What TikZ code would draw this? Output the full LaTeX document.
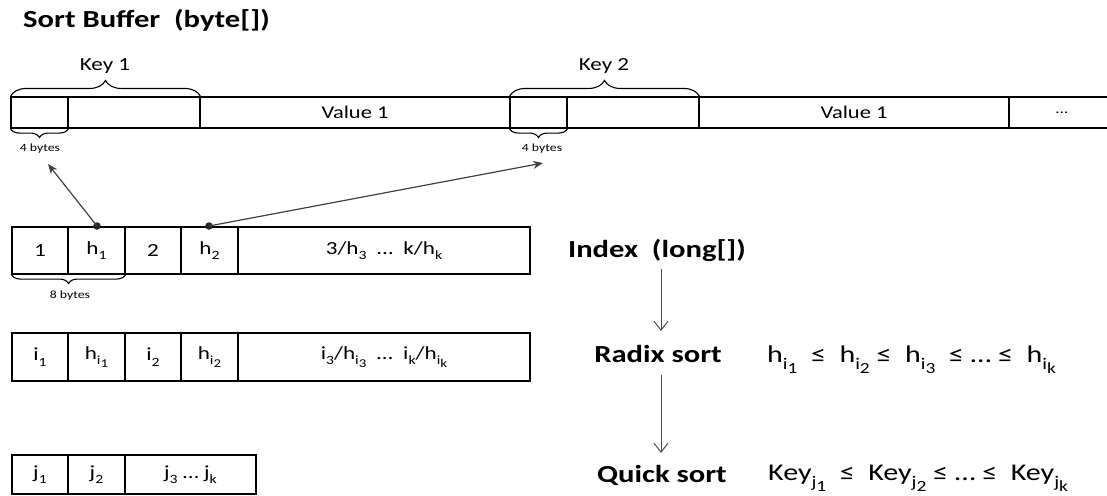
\documentclass[tikz,border=0pt]{standalone}
\usepackage{fontspec}
\setmainfont[FakeStretch=1.25]{Carlito}
\usetikzlibrary{arrows.meta,decorations.pathreplacing}
\newcommand\lowx[1]{\raisebox{-0.3em}{\scalebox{0.68}{#1}}}
\newcommand\lowy[1]{\raisebox{-0.25em}{\scalebox{0.95}{#1}}}
\tikzset{
  cell/.style={draw=black, line width=1.1pt, rectangle, inner sep=0pt, font=\fontsize{18.5}{21}\selectfont},
  lbl/.style={inner sep=0pt, font=\fontsize{18.5}{21}\selectfont},
  small/.style={inner sep=0pt, font=\fontsize{11}{12}\selectfont},
  head/.style={inner sep=0pt, font=\fontsize{24.5}{28}\selectfont\bfseries},
  formula/.style={inner sep=0pt, font=\fontsize{24}{27}\selectfont},
  brc/.style={draw=black, line width=1.1pt, decorate},
  dot/.style={circle, fill=black!85, inner sep=0pt, minimum size=7.5pt},
  ptr/.style={draw=black!75, line width=1.2pt, -{Stealth[length=10pt,width=8pt]}},
  varr/.style={draw=black!70, line width=1pt, -{Straight Barb[length=9pt,width=14pt]}},
}
\begin{document}
\begin{tikzpicture}[x=1pt,y=-1pt]
\useasboundingbox (0,0) rectangle (1107,495);
\clip (0,0) rectangle (1107,495);
% title
\node[head, anchor=base west] (title) at (23,28) {Sort Buffer\ \ (byte[])};
% top bar
\node[cell, minimum width=57, minimum height=31] (tc1) at (39.5,112.5) {};
\node[cell, minimum width=132, minimum height=31] (tc2) at (134,112.5) {};
\node[cell, minimum width=310, minimum height=31] (tv1) at (355,112.5) {\fontsize{18}{20}\selectfont Value 1};
\node[cell, minimum width=57, minimum height=31] (tc3) at (538.5,112.5) {};
\node[cell, minimum width=132, minimum height=31] (tc4) at (633,112.5) {};
\node[cell, minimum width=310, minimum height=31] (tv2) at (854,112.5) {\fontsize{18}{20}\selectfont Value 1};
\node[cell, minimum width=106, minimum height=31] (tdots) at (1062,112.5) {\fontsize{14}{16}\selectfont …};
% braces top
\draw[brc, decoration={brace,amplitude=16pt}] (tc1.north west) -- (tc2.north east);
\draw[brc, decoration={brace,amplitude=16pt}] (tc3.north west) -- (tc4.north east);
\node[lbl] (key1) at (105,66) {Key 1};
\node[lbl] (key2) at (604,66) {Key 2};
\draw[brc, decoration={brace,mirror,amplitude=9pt}] (tc1.south west) -- (tc1.south east);
\draw[brc, decoration={brace,mirror,amplitude=9pt}] (tc3.south west) -- (tc3.south east);
\node[small] (b4a) at (40,149) {4 bytes};
\node[small] (b4b) at (542,149) {4 bytes};
\coordinate (t1) at (48,164);
\coordinate (t2) at (543,163);
% index row 1
\node[cell, minimum width=56, minimum height=47] (r1a) at (40,250.5) {1};
\node[cell, minimum width=57, minimum height=47] (r1b) at (96.5,250.5) {h\lowx{1}};
\node[cell, minimum width=56, minimum height=47] (r1c) at (153,250.5) {2};
\node[cell, minimum width=57, minimum height=47] (r1d) at (209.5,250.5) {h\lowx{2}};
\node[cell, minimum width=292, minimum height=47] (r1e) at (384,250.5) {3/h\lowx{3}\ \ …\ \ k/h\lowx{k}};
\draw[brc, decoration={brace,mirror,amplitude=9pt}] (r1a.south west) -- (r1b.south east);
\node[small] (b8) at (70,296) {8 bytes};
% dots and pointers
\node[dot] (d1) at (97,226) {};
\node[dot] (d2) at (209,226) {};
\draw[ptr] (d1.center) -- (t1);
\draw[ptr] (d2.center) -- (t2);
% row 2
\node[cell, minimum width=56, minimum height=48] (r2a) at (40,357) {i\lowx{1}};
\node[cell, minimum width=57, minimum height=48] (r2b) at (96.5,357) {h\lowx{i\lowy{1}}};
\node[cell, minimum width=56, minimum height=48] (r2c) at (153,357) {i\lowx{2}};
\node[cell, minimum width=57, minimum height=48] (r2d) at (209.5,357) {h\lowx{i\lowy{2}}};
\node[cell, minimum width=292, minimum height=48] (r2e) at (384,357) {i\lowx{3}/h\lowx{i\lowy{3}}\ \ …\ \ i\lowx{k}/h\lowx{i\lowy{k}}};
% row 3
\node[cell, minimum width=56, minimum height=39] (r3a) at (40,474.5) {j\lowx{1}};
\node[cell, minimum width=57, minimum height=39] (r3b) at (96.5,474.5) {j\lowx{2}};
\node[cell, minimum width=131, minimum height=39] (r3c) at (190.5,474.5) {j\lowx{3} … j\lowx{k}};
% right side
\node[head, anchor=base] (idx) at (657,257) {Index\ \ (long[])};
\node[head, anchor=base] (radix) at (658,362) {Radix sort};
\node[head, anchor=base] (quick) at (662,482) {Quick sort};
\coordinate (a1s) at (661,269);
\coordinate (a1e) at (661,331);
\coordinate (a2s) at (661,375);
\coordinate (a2e) at (661,453);
\draw[varr] (a1s) -- (a1e);
\draw[varr] (a2s) -- (a2e);
\node[formula, anchor=base west] (f1) at (767,362) {h\lowx{i\lowy{1}}\ \ ≤\ \ h\lowx{i\lowy{2}}\ ≤\ \ h\lowx{i\lowy{3}}\ \ ≤ … ≤\ \ h\lowx{i\lowy{k}}};
\node[formula, anchor=base west] (f2) at (768,480) {Key\lowx{j\lowy{1}}\ \ ≤\ \ Key\lowx{j\lowy{2}}\ ≤ … ≤\ \ Key\lowx{j\lowy{k}}};
\end{tikzpicture}
\end{document}
